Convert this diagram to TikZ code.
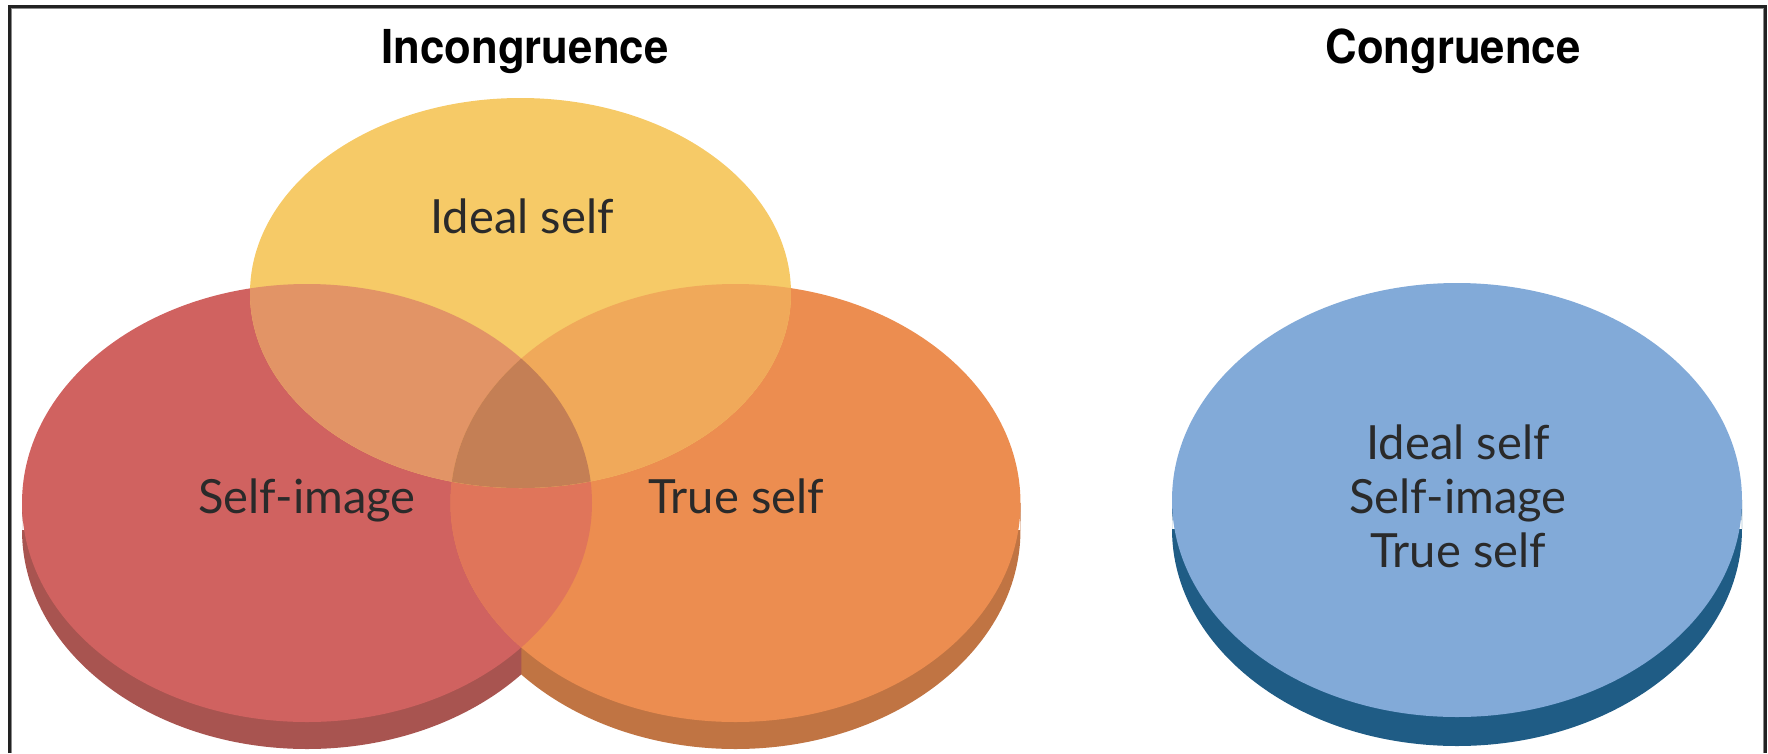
\documentclass[tikz,border=0pt]{standalone}
\usepackage{fontspec}
\setmainfont{Lato}
\newfontfamily\titlefont{TeX Gyre Heros}
\definecolor{cyel}{HTML}{F6CA67}
\definecolor{cred}{HTML}{D06260}
\definecolor{corg}{HTML}{EC8D50}
\definecolor{cyr}{HTML}{E29466}
\definecolor{cyo}{HTML}{F0A95A}
\definecolor{cro}{HTML}{E0755A}
\definecolor{cyro}{HTML}{C47F55}
\definecolor{credsh}{HTML}{A85450}
\definecolor{corgsh}{HTML}{C07443}
\definecolor{cblue}{HTML}{82AAD8}
\definecolor{cbluesh}{HTML}{1F5C85}
\definecolor{ctext}{HTML}{2A2A2A}
\definecolor{cframe}{HTML}{222222}
\definecolor{cframein}{HTML}{8A8A8A}
\def\ellR{(307,250) ellipse [x radius=285, y radius=219]}
\def\ellO{(735.5,250) ellipse [x radius=285, y radius=219]}
\def\ellY{(520.5,460) ellipse [x radius=270.5, y radius=195]}
\def\ellB{(1457,253) ellipse [x radius=285, y radius=217]}
\begin{document}
\begin{tikzpicture}[x=0.01cm,y=0.01cm,
  lbl/.style={anchor=base, inner sep=0pt, text=ctext, font=\fontsize{13.4}{15.8}\selectfont},
  ttl/.style={anchor=base, inner sep=0pt, text=black, font=\titlefont\bfseries\fontsize{13.3}{15.6}\selectfont}]
\useasboundingbox (0,0) rectangle (1768,753);
% shadows (cylinder sides)
\fill[corgsh] (735.5,223) ellipse [x radius=285, y radius=219] (450.5,223) rectangle (1020.5,250);
\begin{scope}
  \clip (0,0) rectangle (521.25,753);
  \fill[credsh] (307,223) ellipse [x radius=285, y radius=219] (22,223) rectangle (592,250);
\end{scope}
\fill[cbluesh] (1457,224) ellipse [x radius=285, y radius=217] (1172,224) rectangle (1742,253);
% faces
\fill[cred] \ellR;
\fill[corg] \ellO;
\begin{scope}
  \clip \ellR;
  \fill[cro] \ellO;
\end{scope}
\fill[cyel] \ellY;
\begin{scope}
  \clip \ellY;
  \fill[cyr] \ellR;
  \fill[cyo] \ellO;
  \clip \ellR;
  \fill[cyro] \ellO;
\end{scope}
\fill[cblue] \ellB;
% frame
\draw[cframein, line width=0.35pt] (11.6,0) -- (11.6,744.4) -- (1763.4,744.4) -- (1763.4,0);
\draw[cframe, line width=0.95pt] (9.5,0) -- (9.5,746.5) -- (1765.5,746.5) -- (1765.5,0);
% titles
\node[ttl] (tinc) at (525,690) {\scalebox{0.935}[1]{Incongruence}};
\node[ttl] (tcon) at (1453,690) {\scalebox{0.935}[1]{Congruence}};
% labels
\node[lbl] (lideal) at (522,520) {Ideal self};
\node[lbl] (limage) at (307,240) {Self-image};
\node[lbl] (ltrue) at (736,240) {True self};
\node[lbl] (b1) at (1458,294) {Ideal self};
\node[lbl] (b2) at (1458,240) {Self-image};
\node[lbl] (b3) at (1458,186) {True self};
\end{tikzpicture}
\end{document}
